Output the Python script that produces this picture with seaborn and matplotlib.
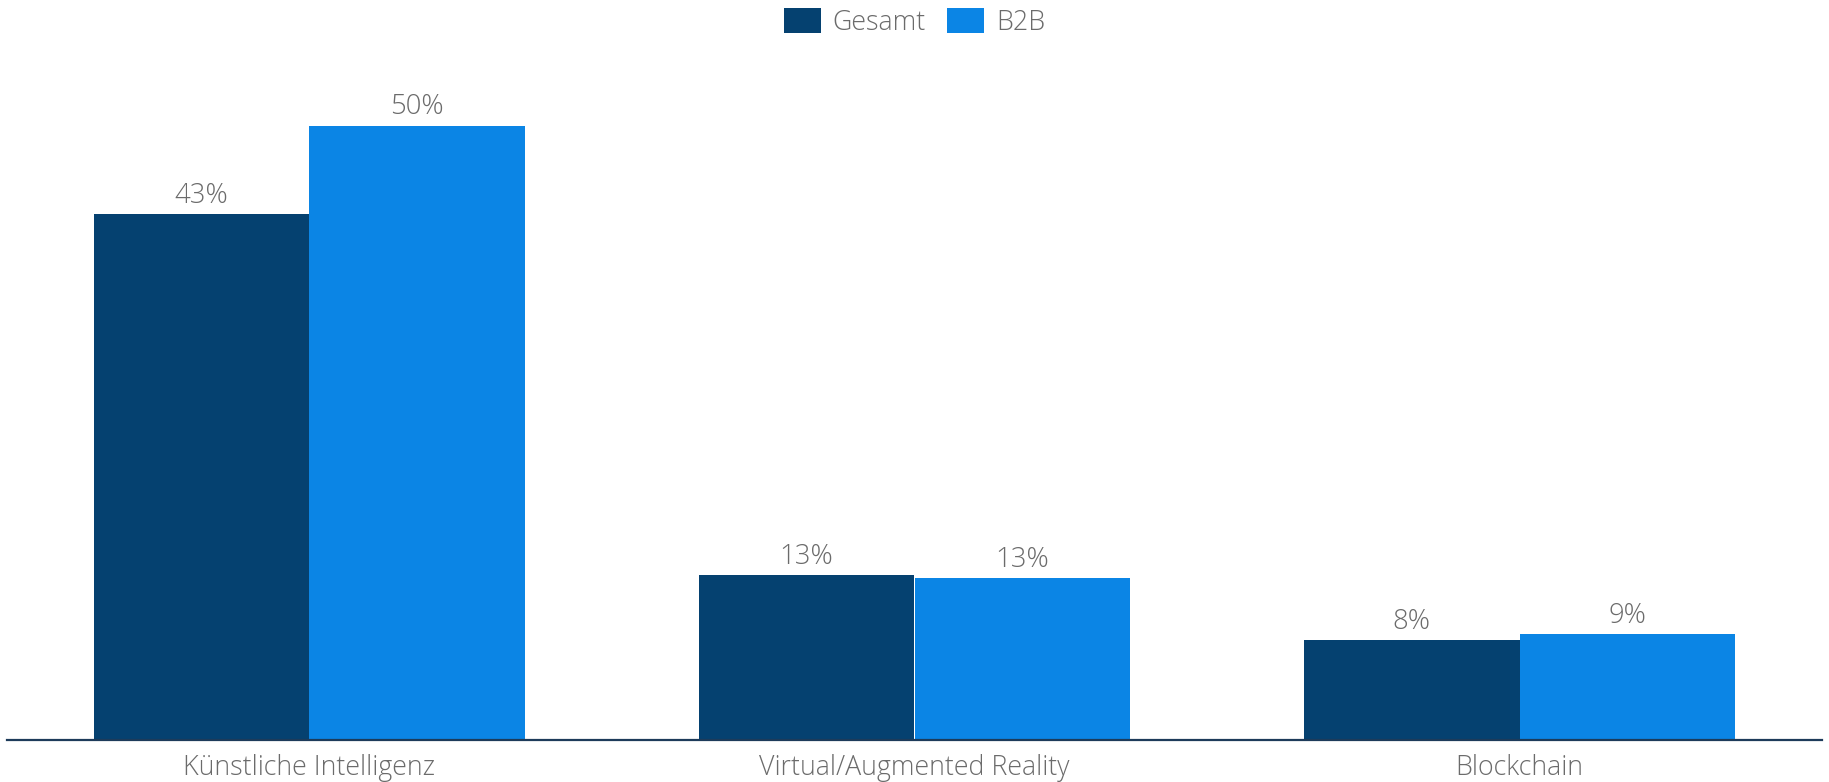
import matplotlib
matplotlib.use("Agg")
import matplotlib.pyplot as plt
import seaborn as sns
import pandas as pd

categories = ["Künstliche Intelligenz", "Virtual/Augmented Reality", "Blockchain"]
series = ["Gesamt", "B2B"]
gesamt = [42.8, 13.4, 8.1]
b2b = [50.0, 13.2, 8.6]

colors = {"Gesamt": "#054170", "B2B": "#0b85e5"}
text_color = "#6b6b6b"

df = pd.DataFrame({
    "Kategorie": categories * 2,
    "Serie": [series[0]] * len(categories) + [series[1]] * len(categories),
    "Wert": gesamt + b2b,
})

sns.set_theme(style="white")
plt.rcParams["font.family"] = ["Open Sans", "DejaVu Sans"]

fig = plt.figure(figsize=(18.29, 7.82), dpi=100)
ax = fig.add_axes([0.0038, 0.0537, 0.9924, 0.869])

sns.barplot(data=df, x="Kategorie", y="Wert", hue="Serie", hue_order=series,
            order=categories, palette=colors, saturation=1, width=0.713,
            gap=0, ax=ax, legend=True, linewidth=0)

for container in ax.containers:
    ax.bar_label(container, fmt="%.0f%%", padding=3, fontsize=19.8,
                 color=text_color, fontweight="light")

ax.set_xlim(-0.5, 2.5)
ax.set_ylim(0, 55.3)
ax.set_xlabel("")
ax.set_ylabel("")
ax.set_yticks([])
for side in ["top", "right", "left"]:
    ax.spines[side].set_visible(False)
ax.spines["bottom"].set_color("#1d3b5a")
ax.spines["bottom"].set_linewidth(1.6)
ax.tick_params(axis="x", length=0, pad=10, labelsize=19.3, labelcolor=text_color)
for lbl in ax.get_xticklabels():
    lbl.set_fontweight("light")

handles, labels = ax.get_legend_handles_labels()
ax.legend_.remove()
leg = fig.legend(handles, labels, loc="center", bbox_to_anchor=(0.5, 0.971),
                 ncol=2, frameon=False, fontsize=19.3, handlelength=1.38,
                 handleheight=1.04, handletextpad=0.45, columnspacing=0.8)
for t in leg.get_texts():
    t.set_color(text_color)
    t.set_fontweight("light")

fig.savefig("out.png", dpi=100)
